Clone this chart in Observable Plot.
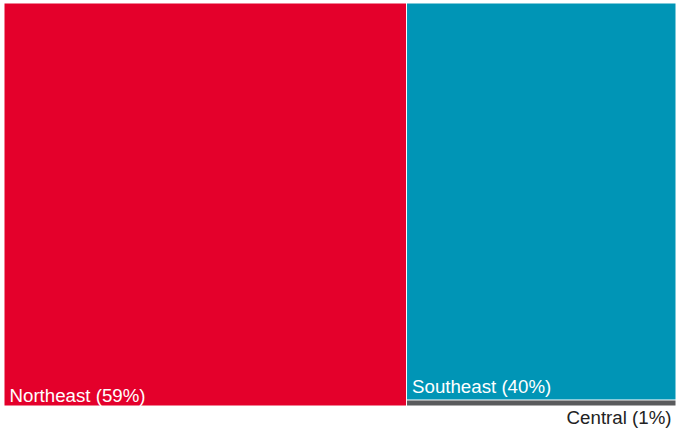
<!DOCTYPE html>
<html>
<head>
<meta charset="utf-8">
<script src="https://cdn.jsdelivr.net/npm/d3@7"></script>
<script src="https://cdn.jsdelivr.net/npm/@observablehq/plot@0.6"></script>
<style>
  html, body { margin: 0; padding: 0; background: #fff; }
  #chart svg { display: block; }
</style>
</head>
<body>
<div id="chart"></div>
<script>
const regions = ["Northeast", "Southeast", "Central"];
const shares = [59.9, 39.5, 0.6];
const labels = ["59%", "40%", "1%"];
const colors = ["#E4002B", "#0095B6", "#5A5B5D"];

const W = 672, H = 403;
const root = d3.hierarchy({children: regions.map((r, i) => ({name: r, value: shares[i], label: labels[i], color: colors[i]}))})
  .sum(d => d.value || 0);
d3.treemap().tile(d3.treemapSquarify).size([W, H]).round(false)(root);
const leaves = root.leaves().map(l => ({...l.data, x0: l.x0, x1: l.x1, y0: l.y0, y1: l.y1}));
const ne = leaves.filter(d => d.name === "Northeast");
const se = leaves.filter(d => d.name === "Southeast");
const small = leaves.filter(d => d.name === "Central");
const txt = d => `${d.name} (${d.label})`;

const chart = Plot.plot({
  width: 676,
  height: 432,
  marginLeft: 4,
  marginTop: 3,
  marginRight: 0,
  marginBottom: 26,
  x: {domain: [0, W], axis: null},
  y: {domain: [0, H], reverse: true, axis: null},
  style: {fontFamily: "Liberation Sans, Arial, sans-serif", background: "#fff"},
  marks: [
    Plot.rect(leaves, {x1: "x0", x2: "x1", y1: "y0", y2: "y1", fill: "color", inset: 0.5}),
    Plot.text(ne, {x: "x0", y: "y1", text: txt, textAnchor: "start", lineAnchor: "bottom", dx: 5, dy: -4.5, fill: "white", fontSize: 18.7}),
    Plot.text(se, {x: "x0", y: "y1", text: txt, textAnchor: "start", lineAnchor: "bottom", dx: 5, dy: -7, fill: "white", fontSize: 18.7}),
    Plot.text(small, {x: "x1", y: "y1", text: txt, textAnchor: "end", lineAnchor: "top", dx: -5, dy: 4, fill: "#222", fontSize: 18.7})
  ]
});
document.getElementById("chart").appendChild(chart);
</script>
</body>
</html>
